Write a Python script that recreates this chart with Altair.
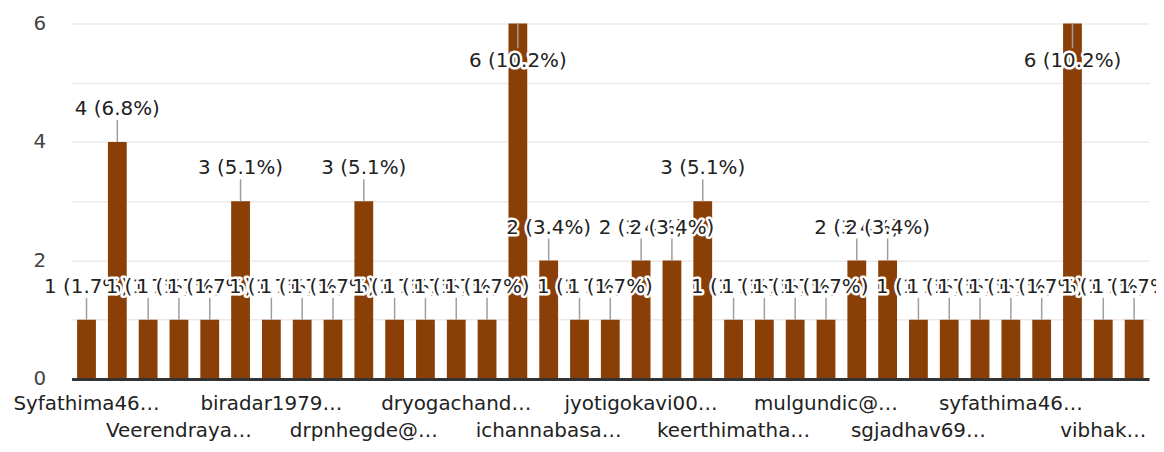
import json
import altair as alt
import pandas as pd

# ---- data ----
names = [
    "Syfathima46@gmail.com", "Umeshpatil21@gmail.com", "Ushahiremath@gmail.com",
    "Veerendrayadav@gmail.com", "Vijaykumar88@gmail.com", "anithak123@gmail.com",
    "biradar1979@gmail.com", "chetanbk@gmail.com", "deepamalagi@gmail.com",
    "drpnhegde@gmail.com", "drravikiran@gmail.com", "drshashikala@gmail.com",
    "dryogachandra@gmail.com", "gangadhar77@gmail.com", "hemanthraj@gmail.com",
    "ichannabasavaraj@gmail.com", "jayashree.k@gmail.com", "jyothi.m@gmail.com",
    "jyotigokavi001@gmail.com", "kanchana.s@gmail.com", "kavitha.r@gmail.com",
    "keerthimathad@gmail.com", "lakshmi.n@gmail.com", "manjula.h@gmail.com",
    "mulgundic@gmail.com", "nagarajk@gmail.com", "prakash.b@gmail.com",
    "sgjadhav69@gmail.com", "shivarajm@gmail.com", "sunita.p@gmail.com",
    "syfathima46@gmail.com", "tejaswini.g@gmail.com", "usha.k@gmail.com",
    "vibhakulkarni@gmail.com", "vinaya.s@gmail.com",
]
values = [1, 4, 1, 1, 1, 3, 1, 1, 1, 3, 1, 1, 1, 1, 6, 2, 1, 1, 2, 2, 3, 1,
          1, 1, 1, 2, 2, 1, 1, 1, 1, 1, 6, 1, 1]
tick_labels = [
    "Syfathima46…", "", "", "Veerendraya…", "", "", "biradar1979…", "", "",
    "drpnhegde@…", "", "", "dryogachand…", "", "", "ichannabasa…", "", "",
    "jyotigokavi00…", "", "", "keerthimatha…", "", "", "mulgundic@…", "", "",
    "sgjadhav69…", "", "", "syfathima46…", "", "", "vibhak…", "",
]
y_ticks = [0, 1, 2, 3, 4, 5, 6]

total = sum(values)
vmax = max(values)
df = pd.DataFrame({
    "idx": list(range(len(names))),
    "name": names,
    "value": values,
    "label": [f"{v} ({v / total * 100:.1f}%)" for v in values],
})

# staggered two-row axis labels (every other shown label goes to row 2)
label_arr = []
k = 0
for t in tick_labels:
    if t == "":
        label_arr.append("")
    else:
        label_arr.append(t if k % 2 == 0 else ["", t])
        k += 1
label_expr = (f"{json.dumps(label_arr, ensure_ascii=False)}"
              f"[indexof({json.dumps(names)}, datum.value)]")

FONT = "DejaVu Sans"
FS = 20

X = alt.X(
    "name:N", sort=names, title=None,
    scale=alt.Scale(paddingInner=0.39, paddingOuter=0.18),
    axis=alt.Axis(
        labelAngle=0, ticks=False, tickSize=0, grid=False,
        domainColor="#333333", domainWidth=3,
        labelFont=FONT, labelFontSize=FS, labelColor="#222222",
        labelPadding=15, labelLineHeight=27, labelLimit=0,
        labelOverlap=False, labelBound=False, labelBaseline="top",
        labelExpr=label_expr, zindex=1,
    ),
)
Y = alt.Y(
    "value:Q", title=None,
    scale=alt.Scale(domain=[0, 6], nice=False),
    axis=alt.Axis(
        values=y_ticks, domain=False, ticks=False, tickSize=0,
        grid=True, gridColor="#ebebeb", gridWidth=1.5,
        labelFont=FONT, labelFontSize=FS, labelColor="#444444",
        labelPadding=26, labelExpr="datum.value % 2 == 0 ? datum.label : ''",
    ),
)

base = alt.Chart(df)

bars = base.mark_bar(color="#8a3f07").encode(x=X, y=Y)

rules_low = base.transform_filter(alt.datum.value < vmax).mark_rule(
    color="#9e9e9e", strokeWidth=1.5, y2Offset=-22
).encode(x=X, y=Y, y2=alt.Y2("value"))

rules_top = base.transform_filter(alt.datum.value == vmax).mark_rule(
    color="#9e9e9e", strokeWidth=1.5, y2Offset=25
).encode(x=X, y=Y, y2=alt.Y2("value"))

layers = [bars, rules_low, rules_top]
for i, v in enumerate(values):
    dy = 38 if v == vmax else -33
    sel = base.transform_filter(alt.datum.idx == i)
    halo = sel.mark_text(
        dy=dy, font=FONT, fontSize=FS, color="white",
        stroke="white", strokeWidth=5, strokeJoin="round",
    ).encode(x=X, y=Y, text="label:N")
    txt = sel.mark_text(
        dy=dy, font=FONT, fontSize=FS, color="#222222",
    ).encode(x=X, y=Y, text="label:N")
    layers += [halo, txt]

chart = alt.layer(*layers).properties(
    width=1085, height=358,
    autosize=alt.AutoSizeParams(type="none"),
    padding={"left": 64, "top": 14, "right": 7, "bottom": 68},
    background="white",
).configure_view(stroke=None)

chart.save("out.html", embed_options={"renderer": "svg", "actions": False})
